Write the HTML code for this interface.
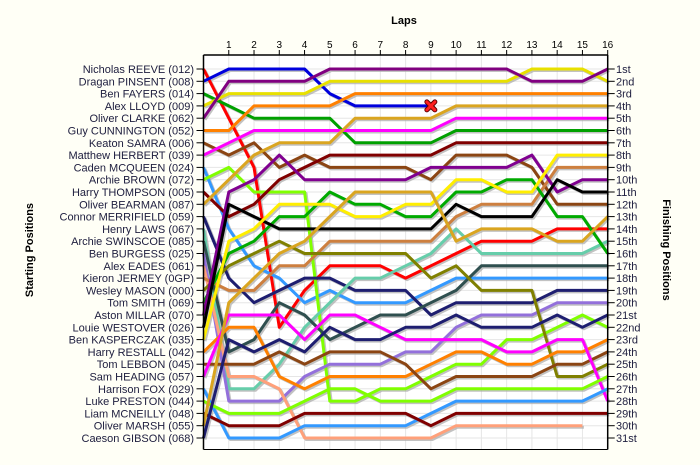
<!DOCTYPE html>
<html><head><meta charset="utf-8">
<style>
html,body{margin:0;padding:0;background:#FFFFF6;}
svg{display:block;font-family:"Liberation Sans",sans-serif;}
</style></head>
<body>
<svg id="chart" width="700" height="465" viewBox="0 0 700 465" xmlns="http://www.w3.org/2000/svg">
<rect x="0" y="0" width="700" height="465" fill="#FFFFF6"/>
<rect x="203.5" y="55" width="404.2" height="394.5" fill="#FFFFFF"/>
<text x="404" y="24" font-size="11" font-weight="bold" text-anchor="middle" fill="#000">Laps</text>
<text transform="translate(33,250) rotate(-90)" font-size="11" font-weight="bold" text-anchor="middle" fill="#000">Starting Positions</text>
<text transform="translate(663,250) rotate(90)" font-size="11" font-weight="bold" text-anchor="middle" fill="#000">Finishing Positions</text>
<g id="grid"></g>
<g id="series"></g>
<g id="axes"></g>
</svg>
<script>
const laps = [0,1,2,3,4,5,6,7,8,9,10,11,12,13,14,15,16];
const lapLabels = ["1","2","3","4","5","6","7","8","9","10","11","12","13","14","15","16"];
const startNames = ["Nicholas REEVE (012)","Dragan PINSENT (008)","Ben FAYERS (014)","Alex LLOYD (009)","Oliver CLARKE (062)","Guy CUNNINGTON (052)","Keaton SAMRA (006)","Matthew HERBERT (039)","Caden MCQUEEN (024)","Archie BROWN (072)","Harry THOMPSON (005)","Oliver BEARMAN (087)","Connor MERRIFIELD (059)","Henry LAWS (067)","Archie SWINSCOE (085)","Ben BURGESS (025)","Alex EADES (061)","Kieron JERMEY (0GP)","Wesley MASON (000)","Tom SMITH (069)","Aston MILLAR (070)","Louie WESTOVER (026)","Ben KASPERCZAK (035)","Harry RESTALL (042)","Tom LEBBON (045)","Sam HEADING (057)","Harrison FOX (029)","Luke PRESTON (044)","Liam MCNEILLY (048)","Oliver MARSH (055)","Caeson GIBSON (068)"];
const finishLabels = ["1st","2nd","3rd","4th","5th","6th","7th","8th","9th","10th","11th","12th","13th","14th","15th","16th","17th","18th","19th","20th","21st","22nd","23rd","24th","25th","26th","27th","28th","29th","30th","31st"];
const seriesColors = ["#FF0000","#0000DD","#00A000","#E8E000","#800080","#FF8000","#8B4513","#FF00FF","#3399FF","#80FF00","#800000","#DAA520","#1E1E70","#66CDAA","#2F4F4F","#9370DB","#FFA07A","#CD7F3F","#808000","#00AA00","#800090","#000000","#FFEE00","#FF8000","#8B4513","#FF00FF","#3399FF","#80FF00","#800000","#DAA520","#1E1E70"];
const pos01 = [1,5,9,22,19,17,17,17,18,17,16,15,15,15,14,14,14];
const pos02 = [2,1,1,1,1,3,4,4,4,4];
const pos03 = [3,4,5,5,5,5,7,7,7,7,6,6,6,6,6,6,6];
const pos04 = [4,3,3,3,3,2,2,2,2,2,2,2,2,1,1,1,2];
const pos05 = [5,2,2,2,2,1,1,1,1,1,1,1,1,2,2,2,1];
const pos06 = [6,6,4,4,4,4,3,3,3,3,3,3,3,3,3,3,3];
const pos07 = [7,8,7,9,8,9,9,9,9,10,8,8,8,9,12,12,12];
const pos08 = [8,7,6,6,6,6,6,6,6,6,5,5,5,5,5,5,5];
const pos09 = [9,14,17,18,20,19,20,20,20,19,18,18,18,18,18,18,18];
const pos10 = [10,9,11,11,11,28,28,27,27,26,25,25,23,23,22,21,22];
const pos11 = [11,13,12,10,9,8,8,8,8,8,7,7,7,7,7,7,7];
const pos12 = [12,10,8,7,7,7,5,5,5,5,4,4,4,4,4,4,4];
const pos13 = [13,18,20,19,18,18,19,19,19,21,20,20,20,20,19,19,19];
const pos14 = [14,27,27,25,22,20,18,18,17,16,14,16,16,16,16,16,15];
const pos15 = [15,24,23,20,21,23,22,21,21,20,19,17,17,17,17,17,17];
const pos16 = [16,28,28,28,26,25,25,25,24,24,22,21,21,21,20,20,20];
const pos17 = [17,26,26,27,31,31,31,31,31,31,30,30,30,30,30,30];
const pos18 = [18,19,19,17,17,15,15,15,15,15,13,12,12,12,9,9,9];
const pos19 = [19,17,16,15,16,16,16,16,16,18,17,19,19,19,26,26,25];
const pos20 = [20,16,15,13,13,11,12,12,13,13,11,11,10,10,13,13,16];
const pos21 = [21,11,10,8,10,10,10,10,10,9,9,9,9,8,11,10,10];
const pos22 = [22,12,13,14,14,14,14,14,14,14,12,13,13,13,10,11,11];
const pos23 = [23,15,14,12,12,12,13,13,12,12,10,10,11,11,8,8,8];
const pos24 = [24,22,22,26,27,26,26,26,26,25,24,24,25,25,24,24,23];
const pos25 = [25,25,25,24,25,24,24,24,25,27,26,26,26,26,25,25,24];
const pos26 = [26,21,21,21,23,21,21,22,23,23,23,23,24,24,23,23,28];
const pos27 = [27,31,31,31,30,30,30,30,30,29,28,28,28,28,28,28,27];
const pos28 = [28,29,29,29,28,27,27,28,28,28,27,27,27,27,27,27,26];
const pos29 = [29,30,30,30,29,29,29,29,29,30,29,29,29,29,29,29,29];
const pos30 = [30,20,18,16,15,13,11,11,11,11,15,14,14,14,15,15,13];
const pos31 = [31,23,24,23,24,22,23,23,22,22,21,22,22,22,21,22,21];
const allSeries = [pos01,pos02,pos03,pos04,pos05,pos06,pos07,pos08,pos09,pos10,pos11,pos12,pos13,pos14,pos15,pos16,pos17,pos18,pos19,pos20,pos21,pos22,pos23,pos24,pos25,pos26,pos27,pos28,pos29,pos30,pos31];
const retiredSeries = [1];

const NS = "http://www.w3.org/2000/svg";
const X0 = 203.5, X1 = 607.7, Y0 = 55, Y1 = 449.5;
const ROW1 = 69, ROWSTEP = 12.3;
function xScale(lap){ return X0 + (X1 - X0) * lap / 16; }
function yScale(p){ return ROW1 + (p - 1) * ROWSTEP; }
function mk(tag, attrs, parent){ const e = document.createElementNS(NS, tag); for (const k in attrs) e.setAttribute(k, attrs[k]); parent.appendChild(e); return e; }

const grid = document.getElementById('grid');
const axes = document.getElementById('axes');
const series = document.getElementById('series');

for (let i = 1; i <= 31; i++) {
  const y = yScale(i);
  const g = mk('line', {x1:X0, x2:X1, y1:y, y2:y, stroke:'#E6E6E6', 'stroke-width':1}, grid);
  
  
}
for (let l = 1; l <= 16; l++) {
  const x = xScale(l);
  const g = mk('line', {x1:x, x2:x, y1:Y0, y2:Y1, stroke:'#E6E6E6', 'stroke-width':1}, grid);
  
  
}

allSeries.forEach((arr, si) => {
  const pts = arr.map((p, li) => xScale(laps[li]).toFixed(1) + ',' + yScale(p).toFixed(1)).join(' ');
  const sh = mk('polyline', {points:pts, fill:'none', stroke:'#A8A8A8', 'stroke-width':3, 'stroke-linejoin':'round', transform:'translate(1.5,1.5)', opacity:0.7}, series);
  
  
});
allSeries.forEach((arr, si) => {
  const pts = arr.map((p, li) => xScale(laps[li]).toFixed(1) + ',' + yScale(p).toFixed(1)).join(' ');
  const ln = mk('polyline', {points:pts, fill:'none', stroke:seriesColors[si], 'stroke-width':3, 'stroke-linejoin':'round'}, series);
  
  
});
retiredSeries.forEach(si => {
  const arr = allSeries[si];
  const li = arr.length - 1;
  const cx = xScale(laps[li]), cy = yScale(arr[li]);
  const g = mk('g', {}, series);
  
  
  mk('path', {d:`M${cx-4},${cy-4}L${cx+4},${cy+4}M${cx+4},${cy-4}L${cx-4},${cy+4}`, stroke:'#600000', 'stroke-width':5, 'stroke-linecap':'round'}, g);
  mk('path', {d:`M${cx-4},${cy-4}L${cx+4},${cy+4}M${cx+4},${cy-4}L${cx-4},${cy+4}`, stroke:'#FF2020', 'stroke-width':3, 'stroke-linecap':'round'}, g);
});

// axes
const ax = [[X0,Y0,X1,Y0],[X0,Y0,X0,Y1],[X1,Y0,X1,Y1],[X0,Y1,X1,Y1]];
ax.forEach((a, i) => {
  const l = mk('line', {x1:a[0], y1:a[1], x2:a[2], y2:a[3], stroke:'#000', 'stroke-width': i===3 ? 1 : 1.5}, axes);
  
  
});
lapLabels.forEach((lab, i) => {
  const x = xScale(i + 1);
  const t = mk('line', {x1:x, x2:x, y1:Y0 - 5, y2:Y0, stroke:'#000', 'stroke-width':1}, axes);
  
  
  const tx = mk('text', {x:x, y:48, 'font-size':10, 'text-anchor':'middle', fill:'#000'}, axes);
  tx.textContent = lab;
  
  
});
startNames.forEach((n, i) => {
  const y = yScale(i + 1);
  const t = mk('line', {x1:X0 - 7, x2:X0, y1:y, y2:y, stroke:'#000', 'stroke-width':1}, axes);
  
  
  const tx = mk('text', {x:194, y:y + 4, 'font-size':11, 'text-anchor':'end', fill:'#202040'}, axes);
  tx.textContent = n;
  
  
});
finishLabels.forEach((n, i) => {
  const y = yScale(i + 1);
  const t = mk('line', {x1:X1, x2:X1 + 7, y1:y, y2:y, stroke:'#000', 'stroke-width':1}, axes);
  
  
  const tx = mk('text', {x:616, y:y + 4, 'font-size':11, 'text-anchor':'start', fill:'#202040'}, axes);
  tx.textContent = n;
  
  
});
</script>
</body></html>
